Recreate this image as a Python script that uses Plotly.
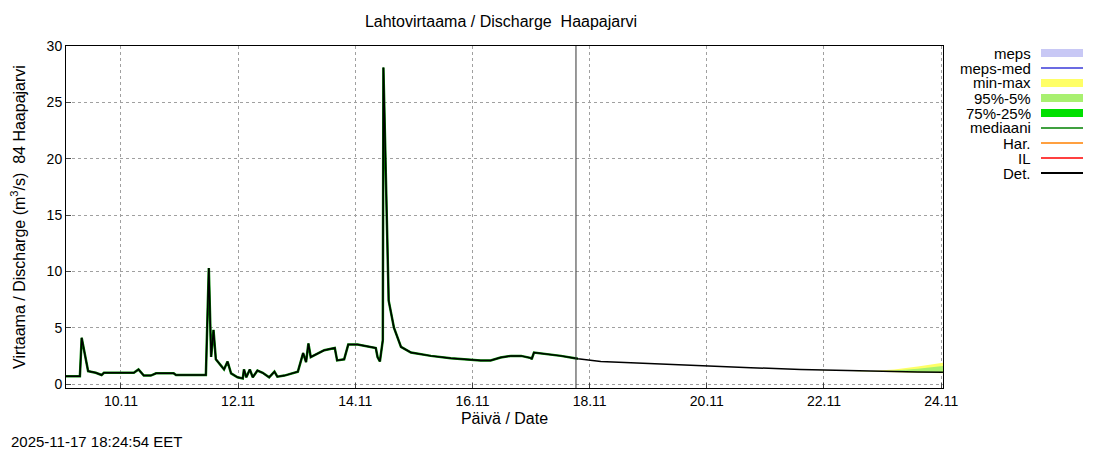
import datetime as dt
import plotly.graph_objects as go

# observed discharge, day of November (decimal) and value m3/s
obs_day = [9.00, 9.30, 9.33, 9.44, 9.57, 9.67, 9.71, 10.22, 10.30, 10.39, 10.51, 10.60,
           10.90, 10.94, 11.45, 11.50, 11.54, 11.58, 11.62, 11.76, 11.82, 11.88, 11.99,
           12.08, 12.10, 12.14, 12.20, 12.25, 12.33, 12.42, 12.53, 12.62, 12.67, 12.79,
           13.02, 13.11, 13.16, 13.20, 13.24, 13.47, 13.65, 13.69, 13.81, 13.88, 14.04,
           14.35, 14.38, 14.42, 14.47, 14.48, 14.57, 14.66, 14.78, 14.95, 15.29, 15.63,
           16.14, 16.31, 16.48, 16.66, 16.83, 17.00, 17.01, 17.05, 17.51, 17.80]
obs_val = [0.7, 0.7, 4.1, 1.15, 1.0, 0.8, 1.0, 1.0, 1.3, 0.75, 0.75, 0.95,
           0.95, 0.8, 0.8, 10.3, 2.4, 4.8, 2.2, 1.3, 2.0, 0.95, 0.6,
           0.5, 1.3, 0.6, 1.3, 0.6, 1.2, 1.0, 0.6, 1.1, 0.65, 0.75,
           1.1, 2.75, 1.95, 3.6, 2.4, 3.0, 3.2, 2.1, 2.2, 3.5, 3.5,
           3.2, 2.4, 2.0, 3.9, 28.1, 7.4, 5.0, 3.3, 2.8, 2.5, 2.3,
           2.1, 2.1, 2.35, 2.5, 2.5, 2.3, 2.2, 2.8, 2.5, 2.25]
# forecast
fc_day = [17.80, 18.19, 19.04, 19.90, 20.75, 21.60, 22.46, 22.80, 23.20, 23.60, 24.03]
fc_med = [2.25, 2.0, 1.8, 1.6, 1.45, 1.3, 1.2, 1.1, 1.08, 1.06, 1.05]
fc_min = [2.25, 2.0, 1.8, 1.6, 1.45, 1.3, 1.2, 1.1, 1.05, 1.0, 0.95]
fc_max = [2.25, 2.0, 1.8, 1.6, 1.45, 1.3, 1.2, 1.15, 1.3, 1.55, 1.9]
fc_p95 = [2.25, 2.0, 1.8, 1.6, 1.45, 1.3, 1.2, 1.12, 1.2, 1.35, 1.6]
fc_p5 = [2.25, 2.0, 1.8, 1.6, 1.45, 1.3, 1.2, 1.1, 1.06, 1.02, 0.98]

legend_names = ["meps", "meps-med", "min-max", "95%-5%", "75%-25%", "mediaani", "Har.", "IL", "Det."]
legend_colors = ["#c8c8f5", "#3a3ad8", "#ffff66", "#a8f070", "#00e000", "#008000", "#ff8000", "#ff0000", "#000000"]
legend_widths = [8, 1.5, 8, 8, 8, 1.5, 1.5, 1.5, 2]

now = dt.datetime(2025, 11, 17, 18, 24)


def to_dt(d):
    return dt.datetime(2025, 11, 1) + dt.timedelta(days=d - 1)


obs_x = [to_dt(d) for d in obs_day]
fc_x = [to_dt(d) for d in fc_day]

fig = go.Figure()
fig.add_trace(go.Scatter(x=fc_x, y=fc_min, mode="lines", line=dict(width=0), showlegend=False))
fig.add_trace(go.Scatter(x=fc_x, y=fc_max, mode="lines", line=dict(width=0), fill="tonexty",
                         fillcolor="#ffff66", showlegend=False))
fig.add_trace(go.Scatter(x=fc_x, y=fc_p5, mode="lines", line=dict(width=0), showlegend=False))
fig.add_trace(go.Scatter(x=fc_x, y=fc_p95, mode="lines", line=dict(width=0), fill="tonexty",
                         fillcolor="#a8f070", showlegend=False))
fig.add_trace(go.Scatter(x=obs_x, y=obs_val, mode="lines", line=dict(color="#008000", width=2.5),
                         showlegend=False))
fig.add_trace(go.Scatter(x=obs_x + fc_x, y=obs_val + fc_med, mode="lines",
                         line=dict(color="black", width=1.5), showlegend=False))

fig.add_shape(type="line", x0=now, x1=now, y0=0, y1=1, yref="paper", line=dict(color="#333333", width=1))

# legend drawn gnuplot style (positions relative to plot area)
W, H = 877, 342
for i, (n, c, w) in enumerate(zip(legend_names, legend_colors, legend_widths)):
    y = 1 + (45 - 52 - 15 * i) / H
    fig.add_annotation(x=(1032 - 65) / W, y=y, xref="paper", yref="paper", text=n, showarrow=False,
                       xanchor="right", yanchor="middle", font=dict(size=15))
    fig.add_shape(type="line", xref="paper", yref="paper", x0=(1040 - 65) / W, x1=(1082 - 65) / W,
                  y0=y, y1=y, line=dict(color=c, width=w))

fig.add_annotation(x=(8 - 65) / W, y=(387 - 440) / H, xref="paper", yref="paper",
                   text="2025-11-17 18:24:54 EET", showarrow=False, xanchor="left",
                   yanchor="middle", font=dict(size=15))

# page body adds ~8px offset, so the figure is a bit smaller
fig.update_layout(
    width=1092, height=442, margin=dict(l=58, r=157, t=38, b=62, autoexpand=False),
    plot_bgcolor="white", paper_bgcolor="white",
    font=dict(family="Liberation Sans, Arial", size=14, color="black"),
    title=dict(text="Lahtovirtaama / Discharge  Haapajarvi", x=493 / 1092, xanchor="center",
               y=1 - 13 / 442, yanchor="middle", font=dict(size=16)),
)
fig.update_xaxes(range=[dt.datetime(2025, 11, 9, 1, 30), dt.datetime(2025, 11, 24, 0, 45)],
                 tick0="2025-11-10", dtick=2 * 86400000, tickformat="%d.%m", automargin=False,
                 showgrid=True, gridcolor="#a0a0a0", griddash="dot", gridwidth=1,
                 showline=True, linecolor="black", mirror=True, ticks="inside", ticklen=5,
                 title=dict(text="Päivä / Date", standoff=5, font=dict(size=16)))
fig.update_yaxes(range=[-0.35, 30], tick0=0, dtick=5, zeroline=False, automargin=False,
                 showgrid=True, gridcolor="#a0a0a0", griddash="dot", gridwidth=1,
                 showline=True, linecolor="black", mirror=True, ticks="inside", ticklen=5,
                 title=dict(text="Virtaama / Discharge (m<sup>3</sup>/s)  84 Haapajarvi", standoff=19,
                            font=dict(size=16)))

fig.write_html("out.html")
